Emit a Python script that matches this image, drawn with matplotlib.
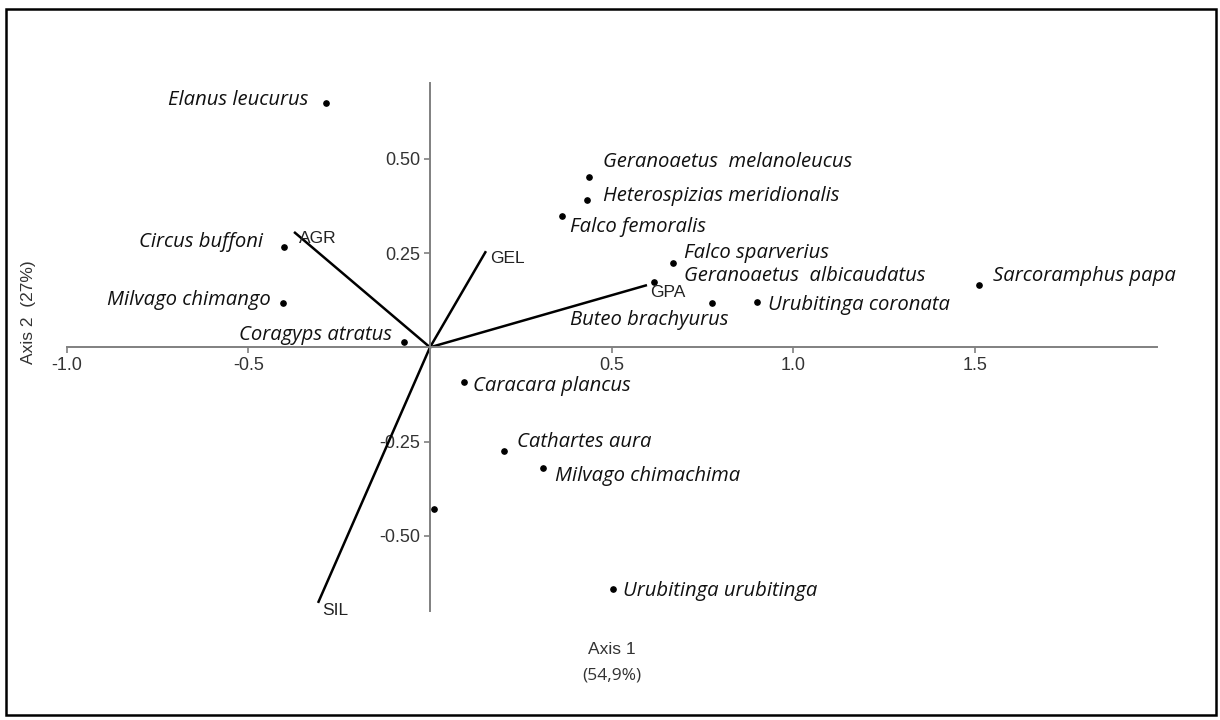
import matplotlib
matplotlib.use("Agg")
import matplotlib.pyplot as plt
from matplotlib.patches import Rectangle

# species scores (axis 1, axis 2)
species = ['Elanus leucurus', 'Geranoaetus  melanoleucus', 'Heterospizias meridionalis',
           'Falco femoralis', 'Falco sparverius', 'Geranoaetus  albicaudatus',
           'Buteo brachyurus', 'Urubitinga coronata', 'Sarcoramphus papa',
           'Circus buffoni', 'Milvago chimango', 'Coragyps atratus',
           'Caracara plancus', 'Cathartes aura', 'Milvago chimachima',
           '', 'Urubitinga urubitinga']
axis1 = [-0.286, 0.437, 0.432, 0.363, 0.668, 0.616, 0.776, 0.900, 1.510,
         -0.402, -0.404, -0.072, 0.094, 0.204, 0.311, 0.011, 0.503]
axis2 = [0.647, 0.452, 0.391, 0.348, 0.224, 0.173, 0.118, 0.120, 0.165,
         0.266, 0.118, 0.014, -0.092, -0.275, -0.320, -0.429, -0.641]

# environmental vectors
variables = ['AGR', 'GEL', 'GPA', 'SIL']
var_x = [-0.374, 0.154, 0.597, -0.308]
var_y = [0.306, 0.255, 0.165, -0.678]

xticks = [-1.0, -0.5, 0.5, 1.0, 1.5]
yticks = [-0.50, -0.25, 0.25, 0.50]

# label placement (pixels from the point) and alignment
sp_offsets = [(-18, 3, 'right'), (14, 15, 'left'), (16, 4, 'left'),
              (8, -11, 'left'), (11, 10, 'left'), (30, 6, 'left'),
              (16, -17, 'right'), (11, -3, 'left'), (14, 9, 'left'),
              (-21, 5, 'right'), (-12, 3, 'right'), (-12, 7, 'right'),
              (9, -4, 'left'), (13, 9, 'left'), (12, -8, 'left'),
              (0, 0, 'left'), (10, -2, 'left')]
var_offsets = [(5, -7), (4, -7), (3, -7), (4, -8)]

fig = plt.figure(figsize=(12.2, 7.2), dpi=100)
ax = fig.add_axes([0.00982, 0.0202, 0.9683, 0.9425])
ax.set_xlim(-1.15, 2.1)
ax.set_ylim(-0.95, 0.85)

axis_col = '#808080'
for s in ['top', 'right']:
    ax.spines[s].set_visible(False)
ax.spines['left'].set_position(('data', 0))
ax.spines['bottom'].set_position(('data', 0))
ax.spines['left'].set_bounds(-0.7, 0.7)
ax.spines['bottom'].set_bounds(-1.0, 2.0)
for s in ['left', 'bottom']:
    ax.spines[s].set_color(axis_col)
    ax.spines[s].set_linewidth(1.4)

ax.set_xticks(xticks)
ax.set_xticklabels(['%.1f' % v for v in xticks])
ax.set_yticks(yticks)
ax.set_yticklabels(['%.2f' % v for v in yticks])
ax.tick_params(axis='both', color=axis_col, length=4, width=1.2,
               labelcolor='#333333', labelsize=13, pad=3)
for lab in ax.get_xticklabels() + ax.get_yticklabels():
    lab.set_family('Liberation Sans')

# vectors
for name, vx, vy, off in zip(variables, var_x, var_y, var_offsets):
    ax.plot([0, vx], [0, vy], color='black', lw=1.8, solid_capstyle='butt')
    ax.annotate(name, (vx, vy), xytext=off, textcoords='offset pixels',
                ha='left', va='center', fontsize=12.5, family='Liberation Sans',
                color='#222222')

# species points
ax.plot(axis1, axis2, 'o', color='black', markersize=3.8, linestyle='none')
for name, px, py, off in zip(species, axis1, axis2, sp_offsets):
    if name:
        ax.annotate(name, (px, py), xytext=(off[0], off[1]), textcoords='offset pixels',
                    ha=off[2], va='center', fontsize=14.6, family='Open Sans',
                    style='italic', color='#111111')

fig.text(29 / 1220, 1 - 312 / 720, 'Axis 2  (27%)', rotation=90, ha='center', va='center',
         fontsize=12.5, family='Liberation Sans', color='#333333')
fig.text(612 / 1220, 1 - 649 / 720, 'Axis 1', ha='center', va='center',
         fontsize=12.5, family='Liberation Sans', color='#333333')
fig.text(612 / 1220, 1 - 675 / 720, '(54,9%)', ha='center', va='center',
         fontsize=12.5, family='Open Sans', color='#333333')

# outer frame
fig.patches.append(Rectangle((6 / 1220, 5 / 720), 1210 / 1220, 706 / 720,
                             transform=fig.transFigure, fill=False,
                             edgecolor='black', lw=1.8))

fig.savefig('out.png', dpi=100)
